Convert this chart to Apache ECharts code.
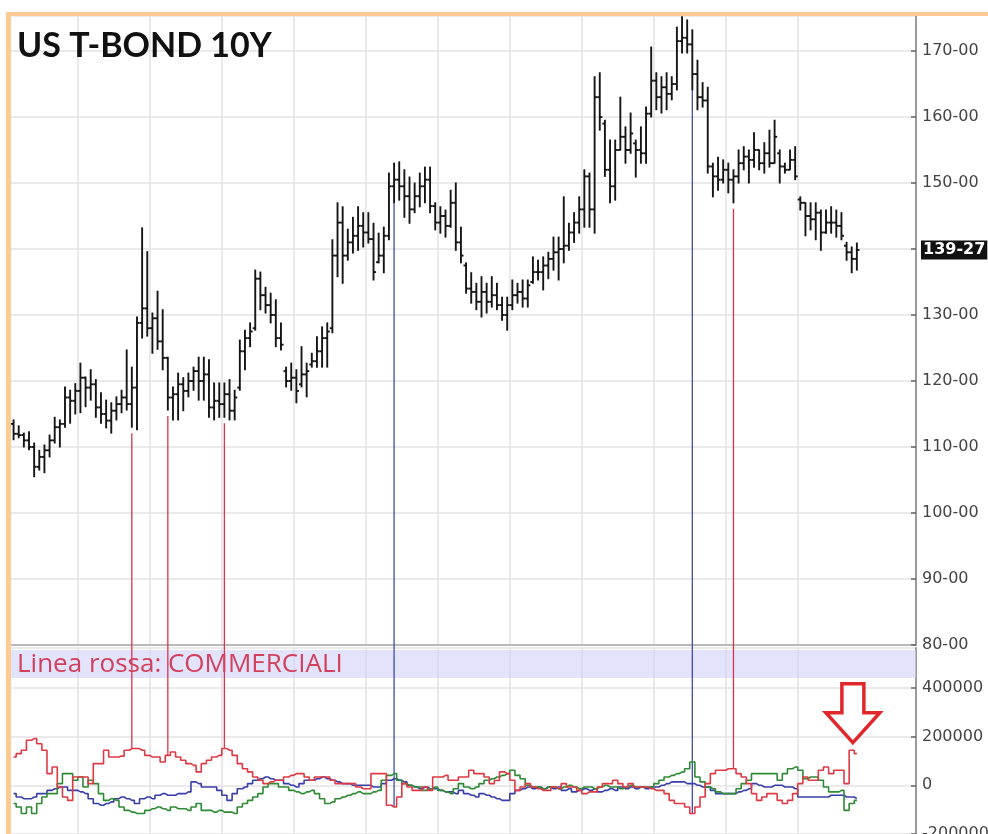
<!DOCTYPE html>
<html>
<head>
<meta charset="utf-8">
<title>US T-BOND 10Y</title>
<script src="https://cdn.jsdelivr.net/npm/echarts@6/dist/echarts.min.js"></script>
<style>
  html, body { margin: 0; padding: 0; background: #fff; }
  #chart { width: 988px; height: 834px; }
</style>
</head>
<body>
<div id="chart"></div>
<script>
// barre mensili del future (prezzi in punti, 32esimi convertiti in decimali)
const opens = [113.5,112.0,111.8,111.0,110.0,107.0,108.5,109.5,111.0,113.0,113.5,117.5,117.0,
  118.5,120.5,119.0,119.5,116.0,115.0,114.0,115.5,116.5,117.5,116.5,
  119.0,128.8,131.0,128.0,129.5,126.0,123.5,117.5,118.0,119.5,
  118.5,120.0,121.5,120.0,121.0,116.0,117.0,116.5,118.0,115.5,
  119.0,124.5,126.5,128.0,135.5,133.0,131.5,130.0,126.5,121.5,
  120.0,120.5,119.5,121.0,122.5,123.0,124.5,126.5,128.0,139.0,
  144.0,139.0,141.0,142.0,143.5,142.5,141.5,138.0,139.0,142.0,
  149.5,150.5,149.5,148.0,146.0,148.0,149.5,150.5,146.5,144.0,
  145.0,143.5,147.0,141.0,137.5,134.0,133.5,132.0,133.5,132.0,
  133.0,131.5,130.0,131.5,133.0,133.5,132.5,135.0,136.5,136.5,
  137.5,138.5,139.5,140.0,140.5,142.5,144.0,146.0,151.0,146.0,
  163.0,159.0,152.0,149.5,155.0,157.0,155.0,156.0,155.0,154.5,
  160.5,165.5,163.0,164.5,163.5,165.0,171.5,172.0,171.0,166.5,
  163.0,162.5,152.5,151.0,150.5,152.0,150.5,151.0,153.0,154.0,
  153.5,155.0,153.0,154.5,153.0,154.5,152.5,152.0,153.5,147.5,
  147.0,145.0,144.5,145.5,142.5,144.0,144.0,143.5,140.5,139.5,
  138.5];
const highs = [114.1,113.2,112.1,112.3,110.6,109.5,110.3,111.8,114.5,114.1,119.1,118.6,119.6,
  122.7,120.6,121.7,120.2,118.2,117.1,116.7,117.6,118.6,124.7,
  122.1,129.7,143.2,139.6,130.3,133.6,130.8,123.6,119.1,121.2,
  120.5,121.2,122.1,123.6,123.6,123.2,119.7,119.7,119.7,120.2,
  118.6,126.2,127.7,128.8,136.8,136.5,134.2,133.3,132.3,128.8,
  122.1,122.7,121.7,125.2,122.7,124.2,126.7,128.2,128.8,141.4,
  147.0,146.4,143.0,144.8,146.4,145.5,145.5,143.9,142.4,143.3,
  151.5,153.0,153.2,152.0,150.9,150.0,151.5,152.4,152.4,147.0,
  146.4,145.9,148.9,150.0,143.3,137.9,136.4,134.8,135.8,134.8,
  135.8,134.8,132.7,132.7,135.3,134.8,135.3,135.3,138.8,138.3,
  138.8,139.5,141.8,141.8,147.9,143.9,145.5,147.9,152.0,151.5,
  166.1,166.7,159.5,156.5,156.5,163.0,158.5,160.6,156.5,158.5,
  161.5,170.6,166.7,166.1,166.7,166.1,173.6,175.2,174.7,173.2,
  168.6,165.2,164.5,153.0,153.9,153.5,153.0,152.0,155.0,155.5,
  155.0,157.6,155.0,156.1,158.0,159.5,155.0,153.0,155.0,155.5,
  147.9,147.0,147.0,147.0,145.9,145.9,146.4,145.9,145.5,141.0,
  140.3,140.9];
const lows = [111.1,111.4,110.0,109.6,105.5,106.5,106.1,108.5,110.6,110.0,113.0,113.6,115.0,
  115.2,116.1,117.1,114.5,113.6,112.9,112.1,114.1,115.2,115.6,
  113.0,112.6,126.5,126.8,124.2,124.8,121.7,115.6,114.1,114.1,
  115.5,117.6,118.6,117.1,117.1,114.5,114.1,114.5,114.5,114.1,
  114.1,118.6,121.7,125.2,127.7,130.8,130.3,128.8,125.2,124.7,
  119.1,118.6,116.7,119.1,117.6,122.1,122.1,122.1,122.1,127.3,
  135.8,134.8,138.3,139.4,139.8,140.3,140.9,135.3,137.9,136.4,
  141.4,147.0,147.4,144.8,143.9,145.5,146.4,147.0,145.5,142.9,
  142.4,141.8,143.3,139.8,137.9,133.3,131.8,130.8,129.7,130.3,
  131.2,130.8,129.2,127.7,130.8,131.8,131.2,131.2,134.8,135.3,
  133.8,135.5,136.8,135.3,137.9,139.8,141.0,142.4,143.3,143.3,
  142.4,158.0,151.0,147.0,147.4,155.0,153.0,154.5,150.9,153.0,
  153.0,160.0,161.1,160.6,161.1,162.6,164.1,169.7,169.7,164.1,
  161.1,161.5,151.5,147.9,148.9,150.0,148.5,147.0,150.0,152.0,
  150.0,152.4,152.0,151.5,152.4,153.0,150.0,151.5,152.0,150.5,
  145.9,142.0,142.9,141.4,139.8,142.4,142.4,141.8,141.4,138.3,
  136.4,136.8];
const closes = [112.0,111.8,111.0,110.0,107.0,108.5,109.5,111.0,113.0,113.5,117.5,117.0,118.5,
  120.5,119.0,119.5,116.0,115.0,114.0,115.5,116.5,117.5,116.5,
  119.0,128.8,131.0,128.0,129.5,126.0,123.5,117.5,118.0,119.5,
  118.5,120.0,121.5,120.0,121.0,116.0,117.0,116.5,118.0,115.5,
  117.5,124.5,126.5,127.5,135.5,133.0,131.5,130.0,126.5,125.5,
  120.0,120.5,118.5,121.0,121.5,123.0,124.5,126.5,127.5,139.0,
  144.0,139.0,141.0,142.0,143.5,142.5,141.5,136.5,139.0,142.0,
  149.5,150.5,149.5,148.0,146.0,148.0,149.5,150.5,146.5,144.0,
  145.0,143.5,147.0,141.0,139.0,134.0,133.5,132.0,133.5,132.0,
  133.0,131.5,130.0,131.5,133.0,133.5,132.5,134.5,136.5,136.5,
  137.5,138.5,139.5,140.0,140.5,142.5,144.0,146.0,151.0,146.0,
  163.0,160.0,152.0,149.5,155.0,157.0,155.0,157.5,155.0,154.5,
  160.5,165.5,163.0,164.5,163.5,165.0,171.5,172.0,171.0,166.5,
  163.0,162.5,152.5,151.0,150.5,152.0,150.5,151.0,153.0,154.0,
  153.5,155.0,153.0,154.5,153.0,157.0,152.5,152.0,153.5,151.0,
  147.0,145.0,144.5,145.5,142.5,144.0,144.0,143.5,142.0,139.5,
  138.5,139.84375];

// posizioni nette COT, migliaia di contratti
const commerciali = [116,130,144,185,192,171,144,48,75,-7,
  -48,-62,34,34,34,7,89,89,144,116,
  116,120,144,151,151,144,123,116,116,96,
  123,137,116,103,89,82,55,89,103,116,
  123,151,144,123,89,68,55,34,21,7,
  14,21,21,34,41,48,48,34,21,34,
  34,34,21,7,7,7,7,-7,-14,-14,
  48,48,48,-82,-89,-48,7,-7,-21,-21,
  -7,-21,34,34,41,21,21,34,34,62,
  48,48,34,7,20,55,48,21,-21,-7,
  7,-7,-14,-21,-21,-7,-14,7,-7,-7,
  -21,-34,-27,-27,-7,7,7,21,7,-7,
  7,-7,-7,-7,-14,-21,-21,-34,-62,-75,
  -75,-89,-116,-89,-48,7,48,62,62,68,
  68,48,34,7,-34,-62,-48,-34,-34,-62,
  -75,-62,-34,7,34,21,21,62,75,48,
  62,62,7,144,130];
const grandiSpeculatori = [-34,-48,-55,-55,-48,-34,-34,-21,-14,-7,
  -7,-21,-21,-27,-34,-55,-75,-82,-75,-68,
  -55,-48,-55,-62,-75,-55,-48,-55,-41,-34,
  -41,-41,-34,-34,-27,14,7,-7,-7,-7,
  -21,-41,-62,-34,-14,-7,7,21,27,34,
  27,21,21,7,0,-7,7,21,21,27,
  34,27,21,14,7,7,0,0,0,0,
  -7,-7,7,21,27,21,14,0,-7,-14,
  -7,-14,-14,-21,-27,-27,-34,-21,-34,-41,
  -48,-34,-41,-48,-55,-62,-62,-34,-21,-14,
  -7,-14,-7,-14,-7,-14,-7,-21,-14,-27,
  -21,-14,-21,-14,-27,-21,-14,-21,-7,-14,
  -7,-14,-7,-14,-7,-7,0,7,14,14,
  14,7,7,0,-7,-7,-21,-34,-34,-34,
  -34,-27,-21,-14,7,0,-7,-7,0,0,
  -7,-7,-14,-48,-48,-48,-48,-48,-48,-41,
  -41,-41,-48,-48,-55];
const piccoliSpeculatori = [-75,-89,-116,-89,-116,-75,-48,-34,-34,7,
  48,48,21,34,-7,21,7,-34,-62,-55,
  -62,-89,-103,-110,-116,-116,-103,-96,-89,-96,
  -103,-89,-96,-96,-103,-89,-75,-103,-103,-110,
  -103,-110,-110,-116,-89,-75,-62,-48,-34,-7,
  7,7,-7,-7,-21,-27,-34,-27,-21,-34,
  -55,-75,-68,-55,-48,-41,-34,-27,-34,-34,
  -27,-21,21,41,48,21,7,0,-7,-7,
  -21,-14,-7,-21,-27,-34,-14,7,-7,-14,
  -7,7,21,27,34,41,48,62,41,27,
  0,-7,-7,-14,-7,-7,-14,-7,0,-7,
  -14,-7,-7,-14,-7,0,-7,-7,-14,-7,
  0,-7,-7,-7,-7,7,21,34,41,48,
  55,68,96,34,14,-7,-14,-27,-34,-34,
  -34,-14,7,21,48,48,48,48,48,21,
  48,68,75,62,27,34,34,21,-7,-27,
  -27,-21,-103,-75,-62];

// barre collegate ai massimi/minimi dei commerciali
const minimiCommerciali = [23, 30, 41, 140];
const massimiCommerciali = [74, 132];

const SLOTS = 176;  // barre + spazio vuoto a destra
const slots = Array.from({ length: SLOTS }, (_, i) => String(i));
const ohlc = opens.map((o, i) => [i, o, highs[i], lows[i], closes[i]]);
const lastClose = closes[closes.length - 1];

function toThirtySeconds(v) {
  let whole = Math.floor(v);
  let frac = Math.round((v - whole) * 32);
  if (frac === 32) { whole += 1; frac = 0; }
  return whole + '-' + String(frac).padStart(2, '0');
}

const yearLine = (idx) => idx % 14 === 13 && idx < 160;
const gridColor = '#e3e3e3';
const labelStyle = { color: '#444', fontFamily: 'DejaVu Sans', fontSize: 16, margin: 6, showMaxLabel: false };

const chart = echarts.init(document.getElementById('chart'));

const option = {
  backgroundColor: '#fff',
  animation: false,
  grid: [
    { left: 11, right: 72, top: 16, bottom: 189, outerBoundsMode: 'none' },
    { left: 11, right: 72, top: 648, bottom: 0, outerBoundsMode: 'none' }
  ],
  xAxis: [
    {
      type: 'category', gridIndex: 0, data: slots, boundaryGap: true,
      axisLine: { show: true, lineStyle: { color: '#a9a9a9', width: 1.5 } },
      axisTick: { show: false }, axisLabel: { show: false },
      splitLine: { show: true, interval: yearLine, lineStyle: { color: gridColor, width: 1.5 } }
    },
    {
      type: 'category', gridIndex: 1, data: slots, boundaryGap: true,
      axisLine: { show: false }, axisTick: { show: false }, axisLabel: { show: false },
      splitLine: { show: true, interval: yearLine, lineStyle: { color: gridColor, width: 1.5 } }
    }
  ],
  yAxis: [
    {
      type: 'value', gridIndex: 0, position: 'right', min: 80, max: 175.3, interval: 10,
      axisLine: { show: true, lineStyle: { color: '#9a9a9a', width: 2 } },
      axisTick: { show: true, inside: true, length: 5, lineStyle: { color: '#666', width: 1.5 } },
      axisLabel: Object.assign({}, labelStyle, {
        formatter: (v) => (v === 140 ? '' : toThirtySeconds(v))
      }),
      splitLine: { lineStyle: { color: gridColor, width: 1.5 } }
    },
    {
      type: 'value', gridIndex: 1, position: 'right', min: -200, max: 564, interval: 200,
      axisLine: { show: true, lineStyle: { color: '#9a9a9a', width: 2 } },
      axisTick: { show: true, inside: true, length: 5, lineStyle: { color: '#666', width: 1.5 } },
      axisLabel: Object.assign({}, labelStyle, { formatter: (v) => String(v * 1000) }),
      splitLine: { lineStyle: { color: gridColor, width: 1.5 } }
    }
  ],
  series: [
    {
      type: 'custom', name: 'T-Bond', xAxisIndex: 0, yAxisIndex: 0,
      data: ohlc,
      encode: { x: 0, y: [1, 2, 3, 4] },
      renderItem: function (params, api) {
        const idx = api.value(0);
        const hi = api.coord([idx, api.value(2)]);
        const lo = api.coord([idx, api.value(3)]);
        const op = api.coord([idx, api.value(1)]);
        const cl = api.coord([idx, api.value(4)]);
        const half = api.size([1, 0])[0] * 0.5;
        const style = { stroke: '#151515', lineWidth: 1.9 };
        return {
          type: 'group',
          children: [
            { type: 'line', shape: { x1: hi[0], y1: hi[1] - 0.5, x2: lo[0], y2: lo[1] + 0.5 }, style: style },
            { type: 'line', shape: { x1: op[0] - half, y1: op[1], x2: op[0], y2: op[1] }, style: style },
            { type: 'line', shape: { x1: cl[0], y1: cl[1], x2: cl[0] + half, y2: cl[1] }, style: style }
          ]
        };
      }
    },
    {
      type: 'line', name: 'Grandi speculatori', xAxisIndex: 1, yAxisIndex: 1,
      data: grandiSpeculatori, step: 'middle', symbol: 'none',
      lineStyle: { color: '#3a3fa8', width: 1.6 }
    },
    {
      type: 'line', name: 'Piccoli speculatori', xAxisIndex: 1, yAxisIndex: 1,
      data: piccoliSpeculatori, step: 'middle', symbol: 'none',
      lineStyle: { color: '#2f8a35', width: 1.6 }
    },
    {
      type: 'line', name: 'Commerciali', xAxisIndex: 1, yAxisIndex: 1,
      data: commerciali, step: 'middle', symbol: 'none',
      lineStyle: { color: '#de3a44', width: 1.6 }
    }
  ]
};

chart.setOption(option);

// annotazioni: linee verticali, riquadro, freccia, ultimo prezzo e cornice
const priceAt = (i, v) => chart.convertToPixel({ xAxisIndex: 0, yAxisIndex: 0 }, [i, v]);
const cotAt = (i, v) => chart.convertToPixel({ xAxisIndex: 1, yAxisIndex: 1 }, [i, v]);

const graphics = [
  { type: 'rect', z: 1, shape: { x: 11, y: 650, width: 905, height: 28 }, style: { fill: 'rgba(208,208,248,0.6)' } },
  { type: 'text', z: 5, x: 17, y: 665, style: { text: 'Linea rossa: COMMERCIALI', font: '26px "Open Sans"', fill: '#d2405c', verticalAlign: 'middle' } },
  { type: 'text', z: 5, x: 17, y: 46, style: { text: 'US T-BOND 10Y', font: 'bold 34px Lato', fill: '#111', verticalAlign: 'middle' } },
  { type: 'rect', z: 20, shape: { x: 6, y: 12, width: 982, height: 4 }, style: { fill: '#ffca94' } },
  { type: 'rect', z: 20, shape: { x: 6, y: 12, width: 5, height: 822 }, style: { fill: '#ffca94' } }
];

const lastPx = priceAt(closes.length - 1, lastClose);
graphics.push({
  type: 'text', z: 20, x: 921, y: lastPx[1],
  style: {
    text: toThirtySeconds(lastClose), font: 'bold 16px "DejaVu Sans"', fill: '#fff',
    backgroundColor: '#111', padding: [2, 2, 1, 2], verticalAlign: 'middle'
  }
});

minimiCommerciali.forEach((i) => {
  const a = priceAt(i, lows[i]);
  const b = cotAt(i, commerciali[i]);
  graphics.push({ type: 'line', z: 3, shape: { x1: a[0], y1: a[1] + 6, x2: b[0], y2: b[1] }, style: { stroke: '#d8364a', lineWidth: 1.3 } });
});
massimiCommerciali.forEach((i) => {
  const a = priceAt(i, lows[i]);
  const b = cotAt(i, commerciali[i]);
  graphics.push({ type: 'line', z: 3, shape: { x1: a[0], y1: a[1], x2: b[0], y2: b[1] }, style: { stroke: '#3f4cb0', lineWidth: 1.3 } });
});

const last = commerciali.length - 1;
const tip = cotAt(last, commerciali[last]);
const tx = tip[0] - 4, ty = tip[1] - 11;
graphics.push({
  type: 'polygon', z: 10,
  shape: { points: [[tx, ty], [tx - 27, ty - 30], [tx - 11, ty - 30], [tx - 11, ty - 59], [tx + 11, ty - 59], [tx + 11, ty - 30], [tx + 27, ty - 30]] },
  style: { fill: '#fff', stroke: '#e0282c', lineWidth: 3.5, lineJoin: 'miter' }
});

chart.setOption({ graphic: graphics });
</script>
</body>
</html>
